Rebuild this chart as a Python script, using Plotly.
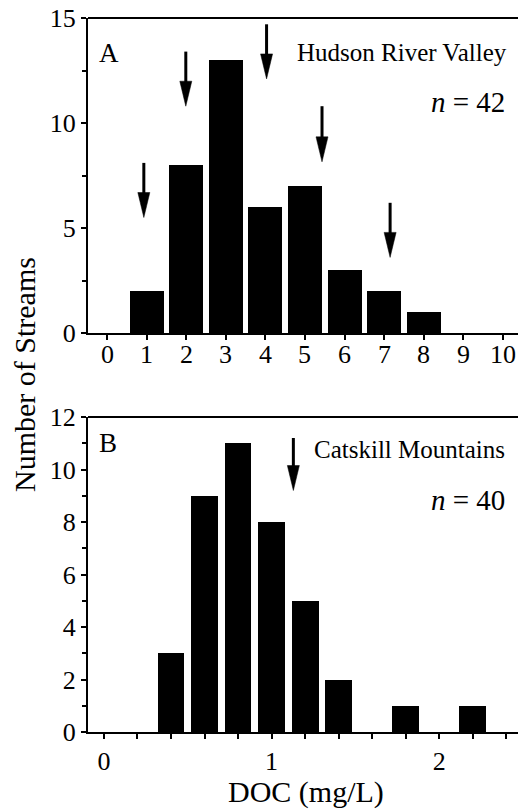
import plotly.graph_objects as go
from plotly.subplots import make_subplots

# ---- data ----
hudson_doc = [1, 2, 3, 4, 5, 6, 7, 8]
hudson_count = [2, 8, 13, 6, 7, 3, 2, 1]
catskill_doc = [0.4, 0.6, 0.8, 1.0, 1.2, 1.4, 1.8, 2.2]
catskill_count = [3, 9, 11, 8, 5, 2, 1, 1]

hudson_arrow_x = [0.93, 1.99, 4.03, 5.43, 7.15]
hudson_arrow_tail = [8.1, 13.4, 14.7, 10.8, 6.2]
hudson_arrow_tip = [5.5, 10.8, 12.1, 8.15, 3.6]
catskill_arrow_x = [1.13]
catskill_arrow_tail = [11.2]
catskill_arrow_tip = [9.2]

top_xticks = list(range(0, 11))
top_xlabels = [str(v) for v in top_xticks]
top_yticks = [0, 5, 10, 15]
bot_xticks = [round(0.2 * i, 1) for i in range(13)]
bot_xlabels = ["0" if v == 0 else ("1" if v == 1.0 else ("2" if v == 2.0 else "")) for v in bot_xticks]
bot_yticks = [0, 2, 4, 6, 8, 10, 12]

# ---- layout constants ----
W, H = 518, 809
ML, MR, MT, MB = 88, 0, 18, 77
FONT = "Liberation Serif"

top_range_x = [-0.48, 10.38]
top_range_y = [0, 15]
bot_range_x = [-0.095, 2.47]
bot_range_y = [0, 12]

plot_h = H - MT - MB
panel_px = 315
top_dom = [1 - panel_px / plot_h, 1]
bot_dom = [0, panel_px / plot_h]
plot_w = W - ML - MR

fig = make_subplots(rows=2, cols=1)
fig.add_trace(go.Bar(x=hudson_doc, y=hudson_count, width=0.86,
                     marker=dict(color="black", line=dict(width=0)),
                     showlegend=False), row=1, col=1)
fig.add_trace(go.Bar(x=catskill_doc, y=catskill_count, width=0.16,
                     marker=dict(color="black", line=dict(width=0)),
                     showlegend=False), row=2, col=1)

tickfont = dict(family=FONT, size=26, color="black")
axis_common = dict(showgrid=False, zeroline=False, showline=True, linecolor="black",
                   linewidth=2, ticks="outside", tickcolor="black", tickwidth=1.5,
                   ticklen=5, tickfont=tickfont)

fig.update_layout(
    width=W, height=H, margin=dict(l=ML, r=MR, t=MT, b=MB),
    plot_bgcolor="white", paper_bgcolor="white", bargap=0,
    font=dict(family=FONT, color="black"),
    xaxis=dict(range=top_range_x, tickvals=top_xticks, domain=[0, 1], showticklabels=False,
               **axis_common),
    yaxis=dict(range=top_range_y, tickvals=top_yticks, domain=top_dom,
               minor=dict(dtick=2.5, ticks="outside", ticklen=4, tickcolor="black", tickwidth=1.5),
               **axis_common),
    xaxis2=dict(range=bot_range_x, tickvals=bot_xticks, ticktext=bot_xlabels, domain=[0, 1],
                **axis_common),
    yaxis2=dict(range=bot_range_y, tickvals=bot_yticks, domain=bot_dom,
                minor=dict(dtick=1, ticks="outside", ticklen=4, tickcolor="black", tickwidth=1.5),
                **axis_common),
)

# top-panel x tick labels (placed closer to the axis, as in the reference)
for v, lab in zip(top_xticks, top_xlabels):
    fig.add_annotation(xref="x", yref="y domain", x=v, y=0, yshift=-21, text=lab,
                       showarrow=False, xanchor="center", yanchor="middle", font=tickfont)

# top frame lines
for xr, yr in (("x", "y"), ("x2", "y2")):
    fig.add_shape(type="line", xref=f"{xr} domain", yref=f"{yr} domain", x0=0, x1=1, y0=1, y1=1,
                  line=dict(color="black", width=2))


def add_arrows(xs, tails, tips, xref, yref, xr, yr):
    xpu = plot_w / (xr[1] - xr[0])
    ypu = panel_px / (yr[1] - yr[0])
    head_len = 25 / ypu
    half_w = 6 / xpu
    for x, t0, t1 in zip(xs, tails, tips):
        fig.add_shape(type="line", xref=xref, yref=yref, x0=x, x1=x, y0=t0, y1=t1 + head_len * 0.8,
                      line=dict(color="black", width=3))
        path = f"M {x - half_w},{t1 + head_len} L {x + half_w},{t1 + head_len} L {x},{t1} Z"
        fig.add_shape(type="path", xref=xref, yref=yref, path=path,
                      fillcolor="black", line=dict(color="black", width=0.5))


add_arrows(hudson_arrow_x, hudson_arrow_tail, hudson_arrow_tip, "x", "y", top_range_x, top_range_y)
add_arrows(catskill_arrow_x, catskill_arrow_tail, catskill_arrow_tip, "x2", "y2", bot_range_x, bot_range_y)

txt = dict(family=FONT, size=25, color="black")
fig.add_annotation(xref="x domain", yref="y domain", x=0.022, y=0.89, text="A",
                   showarrow=False, xanchor="left", yanchor="middle", font=dict(family=FONT, size=27, color="black"))
fig.add_annotation(xref="x domain", yref="y domain", x=0.978, y=0.889, text="Hudson River Valley",
                   showarrow=False, xanchor="right", yanchor="middle", font=txt)
fig.add_annotation(xref="x domain", yref="y domain", x=0.975, y=0.733, text="<i>n</i> = 42",
                   showarrow=False, xanchor="right", yanchor="middle", font=dict(family=FONT, size=29, color="black"))
fig.add_annotation(xref="x2 domain", yref="y2 domain", x=0.022, y=0.917, text="B",
                   showarrow=False, xanchor="left", yanchor="middle", font=dict(family=FONT, size=27, color="black"))
fig.add_annotation(xref="x2 domain", yref="y2 domain", x=0.975, y=0.898, text="Catskill Mountains",
                   showarrow=False, xanchor="right", yanchor="middle", font=txt)
fig.add_annotation(xref="x2 domain", yref="y2 domain", x=0.975, y=0.737, text="<i>n</i> = 40",
                   showarrow=False, xanchor="right", yanchor="middle", font=dict(family=FONT, size=29, color="black"))

# axis titles
fig.add_annotation(xref="paper", yref="paper", x=-ML / plot_w + 24 / plot_w, y=0.5,
                   text="Number of Streams", textangle=-90, showarrow=False,
                   xanchor="center", yanchor="middle", font=dict(family=FONT, size=30, color="black"))
fig.add_annotation(xref="x2", yref="paper", x=(bot_range_x[0] + bot_range_x[1]) / 2 + 0.02,
                   y=-MB / plot_h, yshift=-2,
                   text="DOC (mg/L)", showarrow=False, xanchor="center", yanchor="bottom",
                   font=dict(family=FONT, size=30, color="black"))

fig.write_html("out.html")
